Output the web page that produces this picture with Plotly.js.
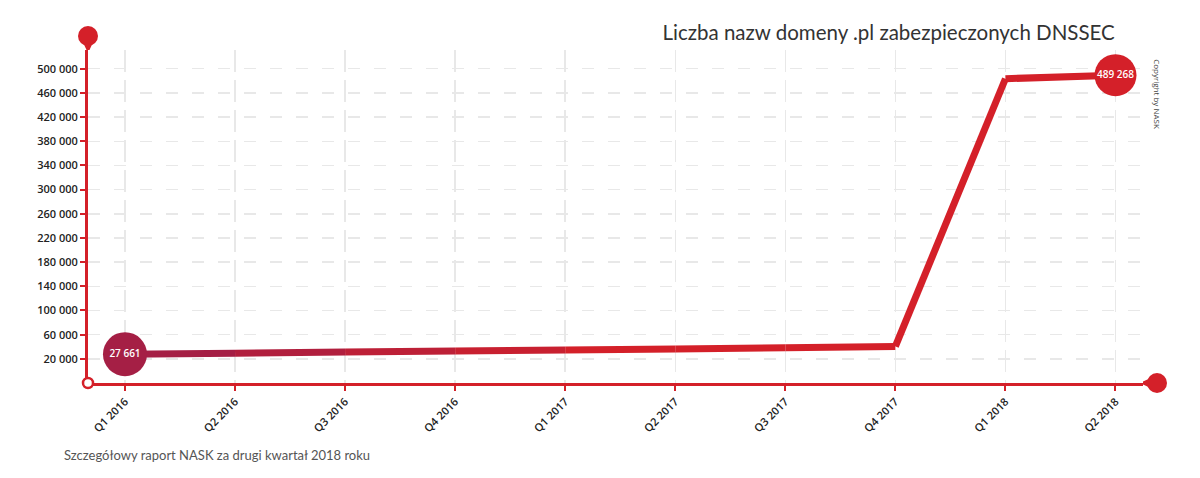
<!DOCTYPE html>
<html lang="pl">
  <head>
    <meta charset="utf-8">
    <title>DNSSEC .pl</title>
    <script src="https://cdn.plot.ly/plotly-3.0.1.min.js" charset="utf-8"></script>
  </head>
  <body style="margin:0">
    <div id="plot" style="width:1200px;height:478px"></div>
    <script type="text/javascript">
      // data
      const quarters = ['Q1 2016','Q2 2016','Q3 2016','Q4 2016','Q1 2017','Q2 2017','Q3 2017','Q4 2017','Q1 2018','Q2 2018'];
      const domains = [27661, 29400, 31200, 32900, 34600, 36400, 38300, 40500, 483500, 489268];
      const labelled = [0, 9];
      const yTicks = [20000, 60000, 100000, 140000, 180000, 220000, 260000, 300000, 340000, 380000, 420000, 460000, 500000];

      const RED = '#d42029';
      const MAROON = '#a51f45';
      const FONT = 'Open Sans, Roboto, sans-serif';

      const fmt = v => String(v).replace(/\B(?=(\d{3})+(?!\d))/g, ' ');

      // line goes from maroon to red over the first quarters
      function mix(a, b, t) {
        let pa = a.match(/\w\w/g).map(h => parseInt(h, 16));
        let pb = b.match(/\w\w/g).map(h => parseInt(h, 16));
        return 'rgb(' + pa.map((c, i) => Math.round(c + (pb[i] - c) * t)).join(',') + ')';
      }

      let traces = [];
      for (let i = 0; i < quarters.length - 1; i++) {
        let t = Math.min(1, i / 4);
        traces.push({
          x: [quarters[i], quarters[i + 1]],
          y: [domains[i], domains[i + 1]],
          type: 'scatter',
          mode: 'lines',
          line: {color: mix('a51f45', 'd42029', t), width: 7},
          hoverinfo: 'skip',
          showlegend: false
        });
      }
      traces.push({
        x: labelled.map(i => quarters[i]),
        y: labelled.map(i => domains[i]),
        text: labelled.map(i => fmt(domains[i])),
        type: 'scatter',
        mode: 'markers+text',
        textposition: 'middle center',
        textfont: {family: FONT, size: 10, color: 'white', weight: 600},
        marker: {size: [44, 42], color: [MAROON, RED], opacity: 1, line: {width: 0}},
        cliponaxis: false,
        showlegend: false
      });

      let layout = {
        width: 1200,
        height: 478,
        margin: {l: 88, r: 57, t: 50, b: 95},
        paper_bgcolor: 'white',
        plot_bgcolor: 'white',
        separators: '. ',
        showlegend: false,
        title: {
          text: 'Liczba nazw domeny .pl zabezpieczonych DNSSEC',
          font: {family: 'Lato, sans-serif', size: 20.5, color: '#333'},
          xref: 'container', x: 0.929, xanchor: 'right',
          yref: 'container', y: 0.931, yanchor: 'middle'
        },
        xaxis: {
          type: 'category',
          range: [-0.336, 9.25],
          tickangle: -45,
          tickfont: {family: FONT, size: 11, color: '#222', weight: 600},
          ticks: 'outside', ticklen: 5, tickwidth: 2, tickcolor: RED,
          showline: true, linecolor: RED, linewidth: 3,
          showgrid: true, gridcolor: '#e8e8e8', gridwidth: 1.5, griddash: '22px,8px',
          zeroline: false
        },
        yaxis: {
          range: [-20000, 531000],
          tickmode: 'array',
          tickvals: yTicks,
          ticktext: yTicks.map(fmt),
          tickfont: {family: FONT, size: 11, color: '#222', weight: 600},
          ticks: 'outside', ticklen: 5, tickwidth: 2, tickcolor: RED,
          showline: true, linecolor: RED, linewidth: 3,
          showgrid: true, gridcolor: '#e8e8e8', gridwidth: 1.5, griddash: '12px,14px',
          zeroline: false
        },
        shapes: [
          // knob on top of the y axis
          {type: 'circle', xref: 'paper', yref: 'paper', xsizemode: 'pixel', ysizemode: 'pixel',
           xanchor: 0, yanchor: 1, x0: -10, x1: 10, y0: 4, y1: 24,
           fillcolor: RED, line: {width: 0}},
          {type: 'path', xref: 'paper', yref: 'paper', xsizemode: 'pixel', ysizemode: 'pixel',
           xanchor: 0, yanchor: 1, path: 'M -6 10 L 6 10 L 1.5 0 L -1.5 0 Z',
           fillcolor: RED, line: {width: 0}},
          // knob at the right end of the x axis
          {type: 'circle', xref: 'paper', yref: 'paper', xsizemode: 'pixel', ysizemode: 'pixel',
           xanchor: 1, yanchor: 0, x0: 4, x1: 24, y0: -10, y1: 10,
           fillcolor: RED, line: {width: 0}},
          {type: 'path', xref: 'paper', yref: 'paper', xsizemode: 'pixel', ysizemode: 'pixel',
           xanchor: 1, yanchor: 0, path: 'M 10 -6 L 10 6 L 0 1.5 L 0 -1.5 Z',
           fillcolor: RED, line: {width: 0}},
          // open circle at the origin
          {type: 'circle', xref: 'paper', yref: 'paper', xsizemode: 'pixel', ysizemode: 'pixel',
           xanchor: 0, yanchor: 0, x0: -5, x1: 5, y0: -5, y1: 5,
           fillcolor: 'white', line: {color: RED, width: 2.5}}
        ],
        annotations: [
          {
            text: 'Szczegółowy raport NASK za drugi kwartał 2018 roku',
            xref: 'paper', yref: 'paper', x: -0.0246, y: -0.216,
            xanchor: 'left', yanchor: 'middle', showarrow: false,
            font: {family: 'Lato, sans-serif', size: 13, color: '#555'}
          },
          {
            text: 'Copyright by NASK',
            xref: 'paper', yref: 'paper', x: 1.013, y: 0.868,
            xanchor: 'center', yanchor: 'middle', showarrow: false,
            textangle: 90,
            font: {family: FONT, size: 8, color: '#444'}
          }
        ]
      };

      Plotly.newPlot(document.getElementById('plot'), traces, layout, {displayModeBar: false, staticPlot: true});
    </script>
  </body>
</html>
